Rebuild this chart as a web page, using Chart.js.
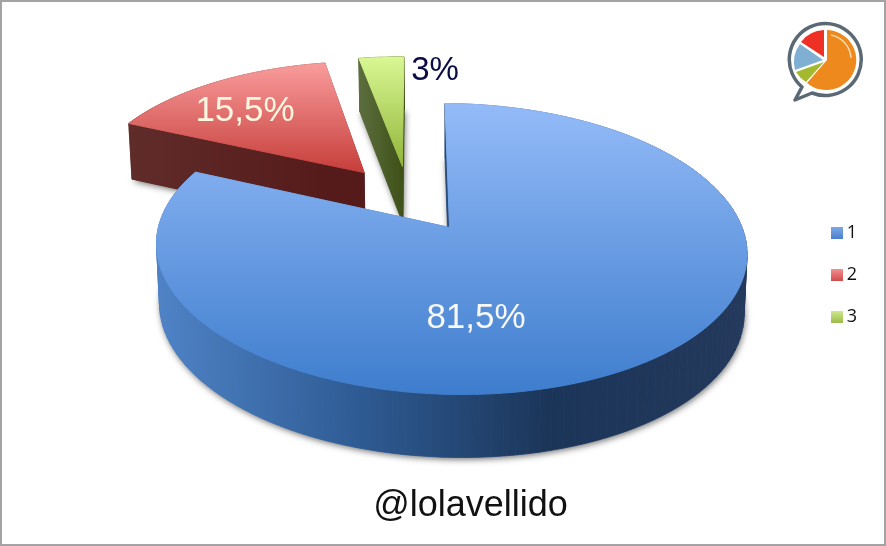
<!DOCTYPE html>
<html>
<head>
<meta charset="utf-8">
<title>@lolavellido</title>
<script src="https://cdn.jsdelivr.net/npm/chart.js@4"></script>
<style>
    html, body { margin: 0; padding: 0; background: #fff; overflow: hidden; }
    #wrap { position: relative; width: 886px; height: 546px; }
    #pie { position: absolute; left: 0; top: 0; }
    #frame { position: absolute; left: 0; top: 0; width: 882px; height: 542px; border: 2px solid #a3a3a3; pointer-events: none; }
    #logo { position: absolute; left: 780px; top: 15px; filter: blur(0.4px); }
</style>
</head>
<body>
<div id="wrap">
    <canvas id="pie" width="886" height="546"></canvas>
    <div id="frame"></div>
    <svg id="logo" width="90" height="95" viewBox="780 15 90 95">
        <path d="M812 93 A36 36 0 1 0 802 87 L795 100 Z" fill="#fff" stroke="#5b6975" stroke-width="3.5" stroke-linejoin="round"/>
        <path d="M827 60 L827 30 A30 30 0 1 1 807 83 Z" fill="#ee8a1d"/>
        <path d="M824 62 L806 82 A30 30 0 0 1 796 72 Z" fill="#a4b92f"/>
        <path d="M823 60 L795 70 A30 30 0 0 1 800 44 Z" fill="#7fb0d4"/>
        <path d="M824 57 L801 42 A30 30 0 0 1 824 30 Z" fill="#ee3124"/>
        <path d="M831 35 A25 25 0 0 1 851 58" fill="none" stroke="#f9d9ae" stroke-width="1.5"/>
    </svg>
</div>
<script>
const categories = ['1', '2', '3'];
const shares = [81.5, 15.5, 3];
const credit = '@lolavellido';

// colours: top face gradient, side face gradient, text
const topStops = [
    ['#94bbf8', '#3e7dcd'],
    ['#f99c9c', '#c63e3a'],
    ['#d9f894', '#92b53a']
];
const sideStops = [
    ['#4f83c6', '#2f5c95', '#1b3558', '#24395c'],
    ['#602c2a', '#551b1a'],
    ['#5c6e3e', '#3e5016']
];
const labelColors = ['#f8f8f4', '#fdf6e0', '#0b0b45'];
const labelSizes = [35, 35, 33];
const legendColors = [['#7fa8e6', '#4a80cc'], ['#f29090', '#d24c4a'], ['#cfe88c', '#9cbc4c']];

// projection of the pie disc on the page (tilted, with perspective)
const view = { cx: 449.5, cy: 227.5, a: 292, b: 142.3, k: 0.1477, m: -0.005, s: -5.2, t: -2.5 };
const explode = [[0, 0], [-0.303, 0.404], [-0.164, 0.455]];
const labelAt = [[476, 318], [245, 111], [435, 71]];

function project(u, v) {
    const w = 1 + view.k * v + view.m * u;
    return {
        x: view.cx + (view.a * u + view.s * v) / w,
        y: view.cy - (view.b * v + view.t * u) / w,
        v: v
    };
}

function drop(p) {
    return { x: view.cx + (p.x - view.cx) * 0.99, y: p.y + 59 - 4 * p.v, v: p.v };
}

function tracePoly(ctx, pts) {
    ctx.moveTo(pts[0].x, pts[0].y);
    pts.slice(1).forEach(p => ctx.lineTo(p.x, p.y));
    ctx.closePath();
}

function linear(ctx, x0, y0, x1, y1, stops) {
    const g = ctx.createLinearGradient(x0, y0, x1, y1);
    stops.forEach((c, i) => g.addColorStop(i / (stops.length - 1), c));
    return g;
}

// small gradient square used as legend marker
function swatch(stops) {
    const c = document.createElement('canvas');
    c.width = 12;
    c.height = 12;
    const g = c.getContext('2d');
    g.fillStyle = linear(g, 0, 0, 0, 12, stops);
    g.fillRect(0, 0, 12, 12);
    return c;
}

const tiltedPie = {
    id: 'tiltedPie',
    beforeDatasetsDraw(chart) {
        const ctx = chart.ctx;
        const arcs = chart.getDatasetMeta(0).data;

        // far slices first, the big one goes on top
        [2, 1, 0].forEach(i => {
            const arc = arcs[i].getProps(['startAngle', 'endAngle'], true);
            const [du, dv] = explode[i];
            const rim = [];
            const steps = 140;
            for (let n = 0; n <= steps; n++) {
                const ang = arc.startAngle + (arc.endAngle - arc.startAngle) * n / steps;
                rim.push(project(Math.cos(ang) + du, -Math.sin(ang) + dv));
            }
            const apex = project(du, dv);
            const apexLow = drop(apex);
            const rimLow = rim.map(drop);

            const quads = [
                [apex, rim[0], rimLow[0], apexLow],
                [apex, rim[steps], rimLow[steps], apexLow]
            ];
            for (let n = 0; n < steps; n++) {
                quads.push([rim[n], rim[n + 1], rimLow[n + 1], rimLow[n]]);
            }

            const xs = rim.map(p => p.x);
            const ys = rim.concat([apex]).map(p => p.y);
            const side = linear(ctx, Math.min(...xs), 0, Math.max(...xs), 0, sideStops[i]);

            // soft shadow below the side faces
            ctx.save();
            ctx.shadowColor = 'rgba(0, 0, 0, 0.55)';
            ctx.shadowBlur = 6;
            ctx.shadowOffsetX = 1;
            ctx.shadowOffsetY = 2;
            ctx.fillStyle = sideStops[i][0];
            ctx.beginPath();
            tracePoly(ctx, [apexLow].concat(rimLow));
            ctx.fill();
            ctx.restore();

            ctx.fillStyle = side;
            ctx.strokeStyle = side;
            ctx.lineWidth = 0.7;
            quads.forEach(poly => {
                ctx.beginPath();
                tracePoly(ctx, poly);
                ctx.fill();
                ctx.stroke();
            });

            const face = linear(ctx, 0, Math.min(...ys), 0, Math.max(...ys), topStops[i]);
            ctx.fillStyle = face;
            ctx.strokeStyle = face;
            ctx.lineWidth = 1;
            ctx.beginPath();
            tracePoly(ctx, [apex].concat(rim));
            ctx.fill();
            ctx.stroke();
        });

        return false;
    },
    afterDraw(chart) {
        const ctx = chart.ctx;
        ctx.save();
        ctx.textAlign = 'center';
        ctx.textBaseline = 'middle';
        shares.forEach((v, i) => {
            ctx.font = labelSizes[i] + 'px "Liberation Sans"';
            ctx.fillStyle = labelColors[i];
            ctx.fillText(String(v).replace('.', ',') + '%', labelAt[i][0], labelAt[i][1]);
        });
        ctx.fillStyle = '#111';
        ctx.font = '36px "Liberation Sans"';
        ctx.fillText(credit, 470.5, 506);
        ctx.restore();
    }
};

const canvas = document.getElementById('pie');
const markers = legendColors.map(swatch);

new Chart(canvas, {
    type: 'pie',
    data: {
        labels: categories,
        datasets: [{
            data: shares,
            backgroundColor: legendColors.map(c => c[1]),
            borderWidth: 0
        }]
    },
    plugins: [tiltedPie],
    options: {
        responsive: false,
        animation: false,
        layout: { padding: { right: 19, top: 4 } },
        plugins: {
            tooltip: { enabled: false },
            legend: {
                position: 'right',
                labels: {
                    usePointStyle: true,
                    boxWidth: 2,
                    boxHeight: 12,
                    padding: 24,
                    color: '#111',
                    font: { family: '"Open Sans"', size: 18 },
                    generateLabels(chart) {
                        const items = Chart.overrides.pie.plugins.legend.labels.generateLabels(chart);
                        items.forEach((item, i) => { item.pointStyle = markers[i]; });
                        return items;
                    }
                }
            }
        }
    }
});
</script>
</body>
</html>
